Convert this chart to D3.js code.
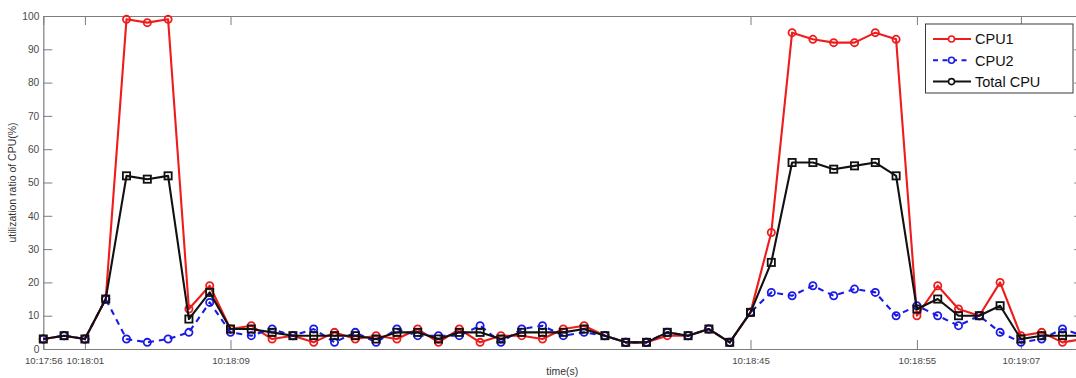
<!DOCTYPE html>
<html>
<head>
<meta charset="utf-8">
<script src="https://cdn.jsdelivr.net/npm/d3@7"></script>
<style>
  html, body { margin: 0; padding: 0; background: #fff; }
  svg { display: block; font-family: "Liberation Sans", Arial, sans-serif; }
</style>
</head>
<body>
<svg id="chart" width="1076" height="378"></svg>
<script>
// Sample index along the time axis (irregular timestamps, evenly spaced samples)
const sampleIndex = d3.range(51);

// Per-sample CPU utilisation, percent
const cpu1 = [3,4,3,15,99,98,99,12,19,6,7,3,4,2,5,3,4,3,6,2,6,2,4,4,3,6,7,4,2,2,4,4,6,2,11,35,95,93,92,92,95,93,10,19,12,10,20,4,5,2,3];
const cpu2 = [3,4,3,15,3,2,3,5,14,5,4,6,4,6,2,5,2,6,4,4,4,7,2,6,7,4,5,4,2,2,5,4,6,2,11,17,16,19,16,18,17,10,13,10,7,10,5,2,3,6,4];
const totalCpu = [3,4,3,15,52,51,52,9,17,6,6,5,4,4,4,4,3,5,5,3,5,5,3,5,5,5,6,4,2,2,5,4,6,2,11,26,56,56,54,55,56,52,12,15,10,10,13,3,4,4,4];

// Labelled samples on the time axis
const timeTickIndex = [0, 2, 9, 34, 42, 47];
const timeTickLabels = ["10:17:56", "10:18:01", "10:18:09", "10:18:45", "10:18:55", "10:19:07"];

const yTicks = d3.range(0, 101, 10);

const seriesNames = ["CPU1", "CPU2", "Total CPU"];

const svg = d3.select("#chart");
const plotLeft = 43.3, plotRight = 1083.3, plotTop = 16, plotBottom = 349;

const x = d3.scaleLinear().domain([0, 50]).range([plotLeft, plotRight]);
const y = d3.scaleLinear().domain([0, 100]).range([plotBottom, plotTop]);

const axisColor = "#7d7d7d";
const textColor = "#4a4a4a";
const tickLen = 9;

// Axes box: bottom/left with labels, top/right mirrored ticks only
const gx = svg.append("g").attr("transform", `translate(0,${plotBottom})`)
  .call(d3.axisBottom(x).tickValues(timeTickIndex)
    .tickFormat((d, i) => timeTickLabels[i])
    .tickSizeInner(-tickLen).tickSizeOuter(0).tickPadding(6));
const gxTop = svg.append("g").attr("transform", `translate(0,${plotTop})`)
  .call(d3.axisTop(x).tickValues(timeTickIndex).tickFormat("")
    .tickSizeInner(-tickLen).tickSizeOuter(0));
const gy = svg.append("g").attr("transform", `translate(${plotLeft},0)`)
  .call(d3.axisLeft(y).tickValues(yTicks).tickFormat(d3.format("d"))
    .tickSizeInner(-tickLen).tickSizeOuter(0).tickPadding(4));
const gyRight = svg.append("g").attr("transform", `translate(${plotRight},0)`)
  .call(d3.axisRight(y).tickValues(yTicks).tickFormat("")
    .tickSizeInner(-tickLen).tickSizeOuter(0));

[gx, gxTop, gy, gyRight].forEach(g => {
  g.selectAll(".domain").attr("stroke", axisColor).attr("stroke-width", 1.2);
  g.selectAll(".tick line").attr("stroke", axisColor).attr("stroke-width", 1);
  g.selectAll("text").attr("fill", textColor).style("font-size", "10.2px")
    .style("font-family", "'Liberation Sans', Arial, sans-serif");
});
gx.selectAll("text").attr("dy", "0.9em").style("font-size", "9.7px");

// Axis titles
svg.append("text")
  .attr("transform", `translate(16,${(plotTop + plotBottom) / 2}) rotate(-90)`)
  .attr("text-anchor", "middle")
  .attr("fill", "#333")
  .style("font-size", "10.5px")
  .text("utilization ratio of CPU(%)");
svg.append("text")
  .attr("x", (plotLeft + plotRight) / 2 - 1)
  .attr("y", 374.5)
  .attr("text-anchor", "middle")
  .attr("fill", "#333")
  .style("font-size", "10.5px")
  .text("time(s)");

// Series
const series = [
  { name: seriesNames[0], values: cpu1, color: "#ee1c1c", dash: null, marker: "circle" },
  { name: seriesNames[1], values: cpu2, color: "#1a1ae6", dash: "6,5", marker: "circle" },
  { name: seriesNames[2], values: totalCpu, color: "#111", dash: null, marker: "square" }
];

const line = d3.line().x((d, i) => x(sampleIndex[i])).y(d => y(d));

const plot = svg.append("g");
series.forEach(s => {
  const g = plot.append("g");
  g.append("path")
    .attr("d", line(s.values))
    .attr("fill", "none")
    .attr("stroke", s.color)
    .attr("stroke-width", 2.1)
    .attr("stroke-dasharray", s.dash)
    .attr("stroke-linejoin", "round");
  if (s.marker === "circle") {
    g.selectAll("circle").data(s.values).join("circle")
      .attr("cx", (d, i) => x(sampleIndex[i]))
      .attr("cy", d => y(d))
      .attr("r", 3.6)
      .attr("fill", "none")
      .attr("stroke", s.color)
      .attr("stroke-width", 1.8);
  } else {
    g.selectAll("rect").data(s.values).join("rect")
      .attr("x", (d, i) => x(sampleIndex[i]) - 3.6)
      .attr("y", d => y(d) - 3.6)
      .attr("width", 7.2)
      .attr("height", 7.2)
      .attr("fill", "none")
      .attr("stroke", s.color)
      .attr("stroke-width", 1.8);
  }
});

// Legend
const legend = svg.append("g");
legend.append("rect")
  .attr("x", 925.5).attr("y", 24)
  .attr("width", 147.5).attr("height", 69)
  .attr("fill", "#fff").attr("stroke", "#3a3a3a").attr("stroke-width", 1);
series.forEach((s, i) => {
  const ly = 39 + i * 21.3;
  legend.append("line")
    .attr("x1", 933).attr("x2", 971).attr("y1", ly).attr("y2", ly)
    .attr("stroke", s.color).attr("stroke-width", 2)
    .attr("stroke-dasharray", s.dash ? "5,4.5" : null);
  legend.append("circle").attr("cx", 951.5).attr("cy", ly).attr("r", 3)
    .attr("fill", "#fff").attr("stroke", s.color).attr("stroke-width", 1.6);
  legend.append("text")
    .attr("x", 975).attr("y", ly).attr("dy", "0.36em")
    .attr("fill", "#111")
    .style("font-size", "14.5px")
    .text(s.name);
});
</script>
</body>
</html>
